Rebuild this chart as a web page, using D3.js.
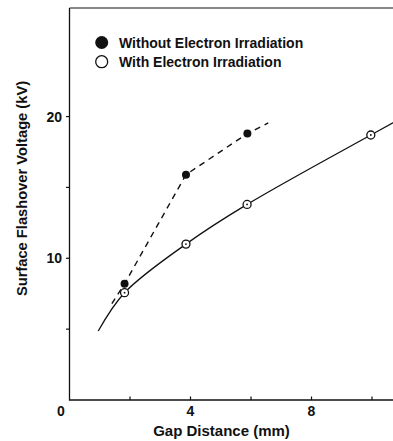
<!DOCTYPE html>
<html><head><meta charset="utf-8">
<script src="https://cdn.jsdelivr.net/npm/d3@7"></script>
<style>body{margin:0;background:#fff}svg{display:block}text{font-family:"Liberation Sans",Arial,Helvetica,sans-serif;font-weight:bold;fill:#111}</style>
</head><body>
<script>
// Data
const withoutX = [1.82, 3.85, 5.88];
const withoutY = [8.2, 15.9, 18.8];
const withX = [1.82, 3.85, 5.87, 9.96];
const withY = [7.57, 11.0, 13.8, 18.7];
// fitted curves as drawn
const dashCurveX = [1.40, 1.82, 3.85, 5.88, 6.57];
const dashCurveY = [6.8, 8.2, 15.9, 18.8, 19.55];
const solidCurveX = [0.95, 1.82, 3.85, 5.87, 9.96, 10.9];
const solidCurveY = [4.87, 7.57, 11.0, 13.8, 18.7, 19.8];
const xTickLabels = [0, 4, 8];
const xTicks = [2, 4, 6, 8, 10];
const yTickLabels = [10, 20];
const yTicks = [5, 10, 15, 20];
const legendLabels = ["Without Electron Irradiation", "With Electron Irradiation"];
const xTitle = "Gap Distance (mm)";
const yTitle = "Surface Flashover Voltage (kV)";

const W = 393, H = 441;
const svg = d3.select("body").append("svg").attr("width", W).attr("height", H);
const x = d3.scaleLinear().domain([0, 10.7]).range([69.5, 393.2]);
const y = d3.scaleLinear().domain([0, 27.66]).range([400, 8]);
const ink = "#111";

// frame: left axis, bottom axis, top line
svg.append("path").attr("d", `M${x(0)},${y(27.66)}V${y(0)}H${W+5}`).attr("fill","none").attr("stroke",ink).attr("stroke-width",1.3);
svg.append("line").attr("x1",x(0)).attr("x2",W+5).attr("y1",y(27.66)).attr("y2",y(27.66)).attr("stroke",ink).attr("stroke-width",1.2);

// ticks
svg.selectAll(".xt").data(xTicks).enter().append("line")
  .attr("x1",d=>x(d)).attr("x2",d=>x(d)).attr("y1",y(0)).attr("y2",y(0)-3.5).attr("stroke",ink).attr("stroke-width",1.2);
svg.selectAll(".yt").data(yTicks).enter().append("line")
  .attr("x1",x(0)-3.5).attr("x2",x(0)).attr("y1",d=>y(d)).attr("y2",d=>y(d)).attr("stroke",ink).attr("stroke-width",1.2);

// tick labels
svg.selectAll(".xl").data(xTickLabels).enter().append("text")
  .attr("x",d=>d===0? x(0)-8.5 : x(d)).attr("y",416).attr("text-anchor","middle").attr("font-size",14).text(d=>d);
svg.selectAll(".yl").data(yTickLabels).enter().append("text")
  .attr("x",62).attr("y",d=>y(d)+5).attr("text-anchor","end").attr("font-size",14).text(d=>d);

// titles
svg.append("text").attr("x",221.5).attr("y",436).attr("text-anchor","middle").attr("font-size",15).text(xTitle);
svg.append("text").attr("transform","translate(26.5,188.5) rotate(-90)").attr("text-anchor","middle").attr("font-size",14.7).text(yTitle);

// curves
const dashLine = d3.line().x(d=>x(d[0])).y(d=>y(d[1])).curve(d3.curveLinear);
const solidLine = d3.line().x(d=>x(d[0])).y(d=>y(d[1])).curve(d3.curveCatmullRom.alpha(0.5));
svg.append("path").datum(dashCurveX.map((v,i)=>[v,dashCurveY[i]])).attr("d",dashLine)
  .attr("fill","none").attr("stroke",ink).attr("stroke-width",1.4).attr("stroke-dasharray","6,5");
svg.append("path").datum(solidCurveX.map((v,i)=>[v,solidCurveY[i]])).attr("d",solidLine)
  .attr("fill","none").attr("stroke",ink).attr("stroke-width",1.3);

// markers
svg.selectAll(".fm").data(withoutX).enter().append("circle")
  .attr("cx",d=>x(d)).attr("cy",(d,i)=>y(withoutY[i])).attr("r",4).attr("fill",ink);
const om = svg.selectAll(".om").data(withX).enter().append("g");
om.append("circle").attr("cx",d=>x(d)).attr("cy",(d,i)=>y(withY[i])).attr("r",4).attr("fill","#fff").attr("stroke",ink).attr("stroke-width",1.3);
om.append("circle").attr("cx",d=>x(d)).attr("cy",(d,i)=>y(withY[i])).attr("r",0.9).attr("fill",ink);

// legend
const lg = svg.append("g");
lg.append("circle").attr("cx",101.7).attr("cy",42.5).attr("r",6.5).attr("fill",ink);
lg.append("circle").attr("cx",101.7).attr("cy",61.7).attr("r",6).attr("fill","#fff").attr("stroke",ink).attr("stroke-width",1.3);
lg.selectAll("text").data(legendLabels).enter().append("text")
  .attr("x",119).attr("y",(d,i)=>47.5+i*19).attr("font-size",14).text(d=>d);
</script>
</body></html>
